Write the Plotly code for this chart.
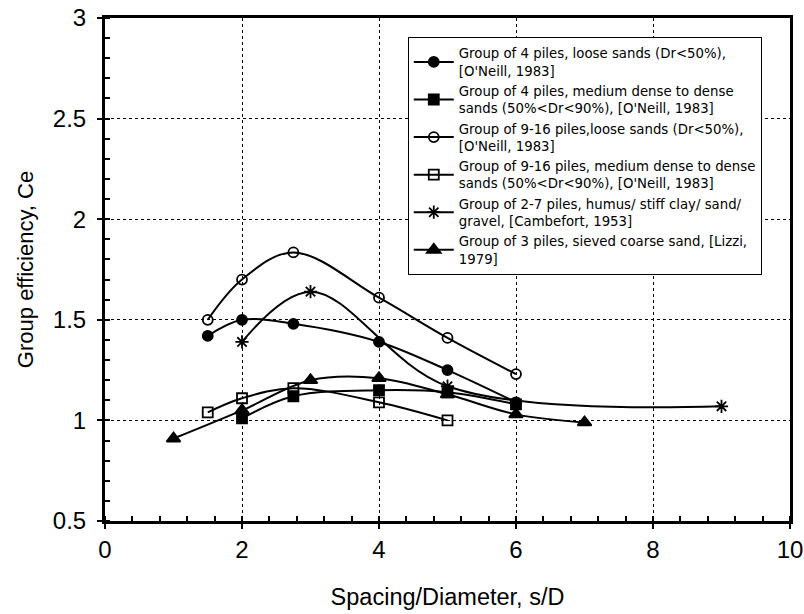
import plotly.graph_objects as go

# Data
s1_x = [1.5, 2, 2.75, 4, 5, 6]
s1_y = [1.42, 1.50, 1.48, 1.39, 1.25, 1.09]
s2_x = [2, 2.75, 4, 5, 6]
s2_y = [1.01, 1.12, 1.15, 1.14, 1.08]
s3_x = [1.5, 2, 2.75, 4, 5, 6]
s3_y = [1.50, 1.70, 1.835, 1.61, 1.41, 1.23]
s4_x = [1.5, 2, 2.75, 4, 5]
s4_y = [1.04, 1.11, 1.16, 1.09, 1.00]
s5_x = [2, 3, 5, 9]
s5_y = [1.39, 1.64, 1.17, 1.07]
s6_x = [1, 2, 3, 4, 5, 6, 7]
s6_y = [0.91, 1.05, 1.20, 1.21, 1.13, 1.03, 0.99]

names = [
    "Group of 4 piles, loose sands (Dr<50%),<br>[O'Neill, 1983]",
    "Group of 4 piles, medium dense to dense<br>sands (50%<Dr<90%), [O'Neill, 1983]",
    "Group of 9-16 piles,loose sands (Dr<50%),<br>[O'Neill, 1983]",
    "Group of 9-16 piles, medium dense to dense<br>sands (50%<Dr<90%), [O'Neill, 1983]",
    "Group of 2-7 piles, humus/ stiff clay/ sand/<br>gravel, [Cambefort, 1953]",
    "Group of 3 piles, sieved coarse sand, [Lizzi,<br>1979]",
]
x_ticks = [0, 2, 4, 6, 8, 10]
y_ticks = [0.5, 1, 1.5, 2, 2.5, 3]

series = [
    (s1_x, s1_y, "circle", 10),
    (s2_x, s2_y, "square", 10),
    (s3_x, s3_y, "circle-open", 10),
    (s4_x, s4_y, "square-open", 10),
    (s5_x, s5_y, "asterisk-open", 11),
    (s6_x, s6_y, "triangle-up", 12),
]

FONT = "Liberation Sans, Arial, sans-serif"
LEG_FONT = "DejaVu Sans, Liberation Sans, sans-serif"
fig = go.Figure()
for (xs, ys, sym, sz), nm in zip(series, names):
    fig.add_trace(go.Scatter(
        x=xs, y=ys, name=nm, mode="lines+markers",
        line=dict(color="black", width=2, shape="spline", smoothing=1),
        marker=dict(symbol=sym, size=sz, color="black",
                    line=dict(color="black", width=1.8)),
    ))

# invisible trace to host the inner-tick overlay axes
fig.add_trace(go.Scatter(x=[x_ticks[0]], y=[y_ticks[0]], xaxis="x2", yaxis="y2",
                         mode="markers", marker=dict(opacity=0), showlegend=False,
                         hoverinfo="skip"))

fig.update_layout(
    width=804, height=614,
    margin=dict(l=105, r=14, t=18, b=93, autoexpand=False),
    paper_bgcolor="white", plot_bgcolor="white",
    font=dict(family=FONT, color="black"),
    showlegend=True,
    legend=dict(
        x=0.442, y=0.962, xanchor="left", yanchor="top",
        bgcolor="white", bordercolor="black", borderwidth=1,
        font=dict(size=13.3, family=LEG_FONT), tracegroupgap=0,
        itemwidth=40,
    ),
    xaxis=dict(
        range=[0, 10], tickvals=x_ticks, ticktext=[str(v) for v in x_ticks],
        ticks="outside", ticklen=5, tickwidth=2, tickcolor="black",
        minor=dict(dtick=0.4, tick0=0, ticks="inside", ticklen=5, tickwidth=2,
                   tickcolor="black", showgrid=False),
        showline=True, linecolor="black", linewidth=3, mirror=True,
        showgrid=True, gridcolor="black", gridwidth=1, griddash="dot",
        zeroline=False, tickfont=dict(size=24), automargin=False,
        ticklabeloverflow="allow",
        title=dict(text="Spacing/Diameter, s/D", font=dict(size=23.5), standoff=27),
    ),
    yaxis=dict(
        range=[0.5, 3], tickvals=y_ticks, ticktext=[str(v) for v in y_ticks],
        ticks="outside", ticklen=5, tickwidth=2, tickcolor="black",
        minor=dict(dtick=0.1, tick0=0.5, ticks="inside", ticklen=5, tickwidth=2,
                   tickcolor="black", showgrid=False),
        showline=True, linecolor="black", linewidth=3, mirror=True,
        showgrid=True, gridcolor="black", gridwidth=1, griddash="dot",
        zeroline=False, tickfont=dict(size=24), automargin=False,
        ticklabelstandoff=6, ticklabeloverflow="allow",
        title=dict(text="Group efficiency, Ce", font=dict(size=22), standoff=14),
    ),
    xaxis2=dict(overlaying="x", range=[0, 10], tickvals=x_ticks, ticks="inside",
                ticklen=5, tickwidth=2, tickcolor="black", showticklabels=False,
                showgrid=False, zeroline=False, showline=False, side="bottom"),
    yaxis2=dict(overlaying="y", range=[0.5, 3], tickvals=y_ticks, ticks="inside",
                ticklen=5, tickwidth=2, tickcolor="black", showticklabels=False,
                showgrid=False, zeroline=False, showline=False, side="left"),
)

fig.write_html(
    "out.html",
    config={"displayModeBar": False},
    post_script="document.body.style.margin='0';document.body.style.overflow='hidden';",
)
